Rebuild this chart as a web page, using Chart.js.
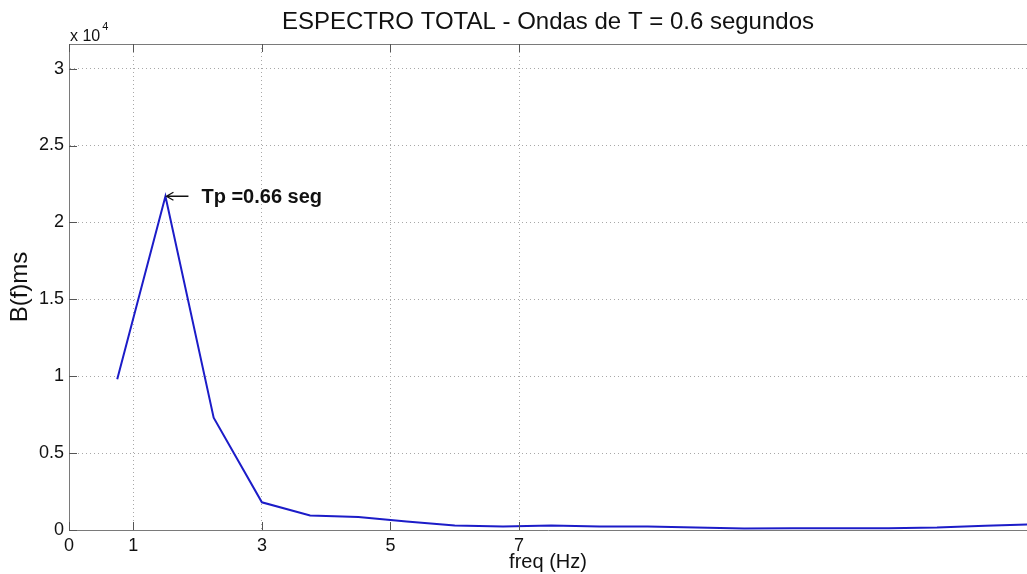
<!DOCTYPE html>
<html>
<head>
<meta charset="utf-8">
<script src="https://cdn.jsdelivr.net/npm/chart.js@4"></script>
<style>
    html, body { margin: 0; padding: 0; background: #fff; overflow: hidden; }
    #wrap { width: 1027px; height: 574px; }
</style>
</head>
<body>
<div id="wrap"><canvas id="spectrumChart"></canvas></div>
<script>
// Data
const freqs = [0.75, 1.5, 2.25, 3, 3.75, 4.5, 5.25, 6, 6.75, 7.5, 8.25, 9, 9.75, 10.5, 11.25, 12, 12.75, 13.5, 14.25, 15];
const spectrum = [9800, 21700, 7300, 1800, 950, 850, 550, 300, 230, 290, 230, 220, 160, 100, 110, 110, 120, 160, 270, 380];
const xTicks = [0, 1, 3, 5, 7];
const yTicks = [0, 5000, 10000, 15000, 20000, 25000, 30000];
const peakFreq = 1.5;
const peakValue = 21700;
const peakLabel = 'Tp =0.66 seg';

const FONT = "'Liberation Sans', Arial, sans-serif";

// Extra marks drawn in Matlab style: inward ticks, top border, exponent, annotation
const matlabExtras = {
    id: 'matlabExtras',
    afterDraw(chart) {
        const ctx = chart.ctx;
        const area = chart.chartArea;
        const x = chart.scales.x;
        const y = chart.scales.y;
        ctx.save();

        // top border
        ctx.strokeStyle = '#7a7a7a';
        ctx.lineWidth = 1;
        ctx.beginPath();
        ctx.moveTo(area.left, area.top + 0.5);
        ctx.lineTo(area.right, area.top + 0.5);
        ctx.stroke();

        // inward tick marks
        ctx.strokeStyle = '#555';
        ctx.beginPath();
        xTicks.forEach(v => {
            const px = Math.round(x.getPixelForValue(v)) + 0.5;
            ctx.moveTo(px, area.bottom);
            ctx.lineTo(px, area.bottom - 8);
            ctx.moveTo(px, area.top);
            ctx.lineTo(px, area.top + 8);
        });
        yTicks.forEach(v => {
            const py = Math.round(y.getPixelForValue(v)) + 0.5;
            ctx.moveTo(area.left, py);
            ctx.lineTo(area.left + 8, py);
        });
        ctx.stroke();

        // exponent label
        ctx.fillStyle = '#111';
        ctx.textBaseline = 'alphabetic';
        ctx.textAlign = 'left';
        ctx.font = '16px ' + FONT;
        ctx.fillText('x 10', area.left + 1, area.top - 3);
        const w = ctx.measureText('x 10').width;
        ctx.font = '11px ' + FONT;
        ctx.fillText('4', area.left + w + 3, area.top - 14);

        // peak annotation
        const px = x.getPixelForValue(peakFreq);
        const py = y.getPixelForValue(peakValue);
        ctx.strokeStyle = '#111';
        ctx.lineWidth = 1.3;
        ctx.beginPath();
        ctx.moveTo(px + 1, py);
        ctx.lineTo(px + 23, py);
        ctx.moveTo(px + 8, py - 4);
        ctx.lineTo(px + 1, py);
        ctx.lineTo(px + 8, py + 4);
        ctx.stroke();
        ctx.font = 'bold 20px ' + FONT;
        ctx.textBaseline = 'middle';
        ctx.fillText(peakLabel, px + 36, py + 1);

        ctx.restore();
    }
};

const ctx = document.getElementById('spectrumChart').getContext('2d');
new Chart(ctx, {
    type: 'line',
    data: {
        datasets: [{
            data: freqs.map((f, i) => ({ x: f, y: spectrum[i] })),
            borderColor: '#1c1cc8',
            borderWidth: 2,
            pointRadius: 0,
            tension: 0,
            fill: false
        }]
    },
    options: {
        responsive: true,
        maintainAspectRatio: false,
        animation: false,
        layout: { padding: { left: 0, right: 0, top: 0, bottom: 0 } },
        plugins: {
            legend: { display: false },
            tooltip: { enabled: false },
            title: {
                display: true,
                text: 'ESPECTRO TOTAL - Ondas de T = 0.6 segundos',
                fullSize: false,
                color: '#111',
                font: { family: FONT, size: 24, weight: 'normal', lineHeight: 1.2 },
                padding: { top: 7.5, bottom: 7.7 }
            }
        },
        scales: {
            x: {
                type: 'linear',
                min: 0,
                max: 14.9,
                afterBuildTicks: scale => { scale.ticks = xTicks.map(v => ({ value: v })); },
                afterFit: scale => { scale.height = 44; },
                border: { display: true, color: '#7a7a7a', width: 1, dash: [1, 3] },
                grid: { color: '#a8a8a8', lineWidth: 1, drawTicks: false },
                ticks: {
                    color: '#111',
                    font: { family: FONT, size: 18 },
                    padding: 5,
                    maxRotation: 0,
                    autoSkip: false,
                    callback: v => String(v)
                },
                title: {
                    display: true,
                    text: 'freq (Hz)',
                    color: '#111',
                    font: { family: FONT, size: 20 },
                    padding: { top: 0, bottom: 0 }
                }
            },
            y: {
                type: 'linear',
                min: 0,
                max: 31600,
                afterBuildTicks: scale => { scale.ticks = yTicks.map(v => ({ value: v })); },
                afterFit: scale => { scale.width = 69; },
                border: { display: true, color: '#7a7a7a', width: 1, dash: [1, 3] },
                grid: { color: '#a8a8a8', lineWidth: 1, drawTicks: false },
                ticks: {
                    color: '#111',
                    font: { family: FONT, size: 18 },
                    padding: 5,
                    autoSkip: false,
                    callback: v => String(v / 10000)
                },
                title: {
                    display: true,
                    text: 'B(f)ms',
                    color: '#111',
                    font: { family: FONT, size: 24 },
                    padding: { top: 6, bottom: 0 }
                }
            }
        }
    },
    plugins: [matlabExtras]
});
</script>
</body>
</html>
